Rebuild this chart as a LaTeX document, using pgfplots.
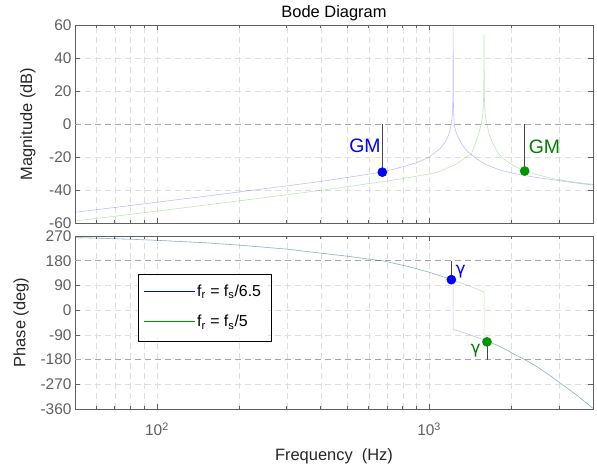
\documentclass[border=0pt]{standalone}
\usepackage{fontspec}
\setmainfont{Liberation Sans}
\newfontfamily\gfont{DejaVu Sans}
\usepackage{pgfplots}
\pgfplotsset{compat=1.18}
\definecolor{mblue}{RGB}{0,0,255}
\definecolor{mgreen}{RGB}{0,150,0}
\definecolor{tgreen}{RGB}{0,128,0}
\definecolor{axgray}{RGB}{95,95,95}
\definecolor{gridgray}{RGB}{222,222,222}
\definecolor{refgray}{RGB}{165,165,165}
\definecolor{stemgray}{RGB}{70,70,70}
\newcommand{\tickfont}{\fontsize{15.5}{18}\selectfont}
\newcommand{\labfont}{\fontsize{16.5}{19}\selectfont}
\newcommand{\legfont}{\fontsize{16}{18}\selectfont}
\newcommand{\bigfont}{\fontsize{19.5}{22}\selectfont}

\pgfplotsset{
  scale only axis, width=518bp,
  grid=both,
  major grid style={gridgray, dash pattern=on 6bp off 4bp, line width=0.5bp},
  minor grid style={gridgray, dash pattern=on 6bp off 4bp, line width=0.5bp},
  axis line style={axgray, line width=0.7bp},
  tick style={axgray, line width=0.7bp},
  major tick length=5bp, minor tick length=3bp,
  tick align=inside,
  ticklabel style={text=axgray, font=\tickfont},
  label style={text=black!85, font=\labfont},
  every axis plot/.append style={line width=0.6bp},
}

\begin{document}
\begin{tikzpicture}
% magnitude
\begin{axis}[anchor=south west, at={(75bp,249bp)}, height=198bp,
  xmode=log, xmin=50, xmax=4000, xtick={100,1000},
  minor xtick={50,60,70,80,90,200,300,400,500,600,700,800,900,2000,3000,4000},
  ymin=-60, ymax=60, ytick={-60,-40,...,60},
  yticklabels={-60,-40,-20,0,20,40,60},
  xticklabels={},
  ylabel={Magnitude (dB)},
  ylabel style={at={(axis description cs:-0.091,0.5)}, anchor=center}]
\addplot[refgray, dash pattern=on 6bp off 4bp, line width=0.6bp] coordinates {(50,0) (4000,0)};
\addplot[mblue, opacity=0.25] coordinates {
(50,-53.5) (70,-50.6) (100,-47.4) (150,-43.8) (200,-41.2) (300,-37.5) (400,-34.8)
(500,-32.4) (600,-30.4) (673,-29.2) (780,-26.4) (900,-23.5) (1000,-20.1) (1100,-14.7)
(1150,-10.6) (1180,-6.4) (1200,-2.0) (1207,0.4) (1215,4) (1220,9) (1223,17) (1225,59)
(1227,17) (1230,7) (1235,1.5) (1241,-1.6) (1255,-5) (1276,-7.7) (1300,-10.3) (1331,-13.2)
(1370,-15.9) (1429,-18.6) (1500,-21.3) (1577,-23.6) (1700,-26.0) (1815,-27.8) (2000,-29.6)
(2244,-31.2) (2500,-32.5) (2850,-33.8) (3300,-35.3) (3700,-36.3) (4000,-37.0)};
\addplot[mgreen, opacity=0.25] coordinates {
(50,-58.8) (70,-55.9) (100,-52.8) (150,-49.2) (200,-46.6) (300,-42.9) (400,-40.2)
(500,-38.0) (600,-36.1) (700,-34.6) (800,-33.0) (900,-31.6) (1033,-29.9) (1100,-28.6)
(1173,-26.5) (1259,-24.3) (1370,-19.8) (1429,-18.3) (1470,-13) (1510,-7.5) (1533,-3.6)
(1555,0) (1570,4) (1580,9) (1587,18) (1591,54) (1595,18) (1603,8) (1615,3) (1631,0)
(1650,-4) (1668,-7.0) (1700,-10.5) (1740,-14) (1800,-17.8) (1867,-20.9) (1950,-23.0)
(2031,-25.0) (2244,-28.5) (2500,-30.8) (2850,-33.1) (3300,-34.9) (3700,-35.9) (4000,-36.6)};
% gain margin stems and markers
\addplot[stemgray, line width=0.8bp] coordinates {(673,-29.2) (673,0)};
\addplot[stemgray, line width=0.8bp] coordinates {(2244,-28.5) (2244,0)};
\addplot[only marks, mark=*, mark size=4.5bp, mblue] coordinates {(673,-29.2)};
\addplot[only marks, mark=*, mark size=4.5bp, mgreen] coordinates {(2244,-28.5)};
\node[anchor=east, inner sep=0pt, text=mblue, font=\bigfont] at (axis cs:673,-13.3) {GM\kern1.5bp};
\node[anchor=west, inner sep=0pt, text=tgreen, font=\bigfont] at (axis cs:2244,-13.9) {\kern4bp GM};
\end{axis}
\node[font=\labfont, text=black] at (334bp,459bp) {Bode Diagram};

% phase
\begin{axis}[anchor=south west, at={(75bp,63bp)}, height=173bp,
  xmode=log, xmin=50, xmax=4000, xtick={100,1000},
  minor xtick={50,60,70,80,90,200,300,400,500,600,700,800,900,2000,3000,4000},
  ymin=-360, ymax=270, ytick={-360,-270,...,270},
  yticklabels={-360,-270,-180,-90,0,90,180,270},
  xticklabels={10\textsuperscript{2},10\textsuperscript{3}},
  xticklabel style={yshift=-10bp},
  ylabel={Phase (deg)},
  ylabel style={at={(axis description cs:-0.104,0.5)}, anchor=center},
  xlabel={Frequency\ \ (Hz)},
  xlabel style={at={(axis description cs:0.5,-0.272)}, anchor=center},
  legend cell align=left,
  legend style={at={(axis description cs:0.122,0.775)}, anchor=north west,
    draw=none, fill=white, font=\legfont,
    inner xsep=5bp, inner ysep=7.5bp, row sep=13.5bp}]
\addlegendimage{legend image code/.code={\pgfsetstrokecolor{mblue}\pgfsetlinewidth{0.8bp}\pgfpathmoveto{\pgfpointorigin}\pgfpathlineto{\pgfpoint{51bp}{0bp}}\pgfusepath{stroke}}}
\addlegendentry{f\textsubscript{r} = f\textsubscript{s}/6.5}
\addlegendimage{legend image code/.code={\pgfsetstrokecolor{mgreen}\pgfsetlinewidth{0.8bp}\pgfpathmoveto{\pgfpointorigin}\pgfpathlineto{\pgfpoint{51bp}{0bp}}\pgfusepath{stroke}}}
\addlegendentry{f\textsubscript{r} = f\textsubscript{s}/5}
\addplot[refgray, dash pattern=on 6bp off 4bp, line width=0.6bp, forget plot] coordinates {(50,-180) (4000,-180)};
\addplot[refgray, dash pattern=on 6bp off 4bp, line width=0.6bp, forget plot] coordinates {(50,180) (4000,180)};
\addplot[mblue, opacity=0.25, forget plot] coordinates {
(50,264.2) (60,262.2) (70,260.2) (80,258.2) (100,254.3) (150,245.5) (205,236) (300,222.3)
(414,205.8) (500,196.5) (632,183) (673,180) (837,159) (1000,138) (1100,125) (1207,111)
(1225,108.7) (1225,-70) (1300,-78) (1400,-88.5) (1500,-99) (1600,-109.5) (1700,-120)
(1800,-130) (1921,-144.7) (2050,-160) (2244,-180) (2500,-207) (2768,-237) (3000,-262)
(3371,-299) (3700,-330) (4000,-358)};
\addplot[mgreen, opacity=0.25, forget plot] coordinates {
(50,264.2) (60,262.2) (70,260.2) (80,258.2) (100,254.3) (150,245.5) (205,236) (300,222.3)
(414,205.8) (500,196.5) (632,183) (673,180) (837,159) (1000,138) (1100,125) (1207,111)
(1225,108.7) (1300,100) (1400,88.5) (1500,77) (1593,66) (1593,-112) (1631,-115.5)
(1700,-121) (1800,-130) (1921,-144.7) (2050,-160) (2244,-180) (2500,-207) (2768,-237)
(3000,-262) (3371,-299) (3700,-330) (4000,-358)};
% phase margin stems and markers
\addplot[stemgray, line width=0.8bp, forget plot] coordinates {(1207,111) (1207,180)};
\addplot[stemgray, line width=0.8bp, forget plot] coordinates {(1631,-115.5) (1631,-180)};
\addplot[only marks, mark=*, mark size=4.5bp, mblue, forget plot] coordinates {(1207,111)};
\addplot[only marks, mark=*, mark size=4.5bp, mgreen, forget plot] coordinates {(1631,-115.5)};
\node[text=mblue, font=\gfont\fontsize{17}{20}\selectfont, inner sep=0pt] at (axis cs:1306,141) {γ};
\node[text=tgreen, font=\gfont\fontsize{17}{20}\selectfont, inner sep=0pt] at (axis cs:1482,-147) {γ};
\end{axis}
% legend frame
\draw[black, line width=0.8bp] (138bp,131bp) rectangle (271bp,198bp);
\pgfresetboundingbox
\path[use as bounding box] (0,0) rectangle (597bp,472bp);
\end{tikzpicture}
\end{document}
